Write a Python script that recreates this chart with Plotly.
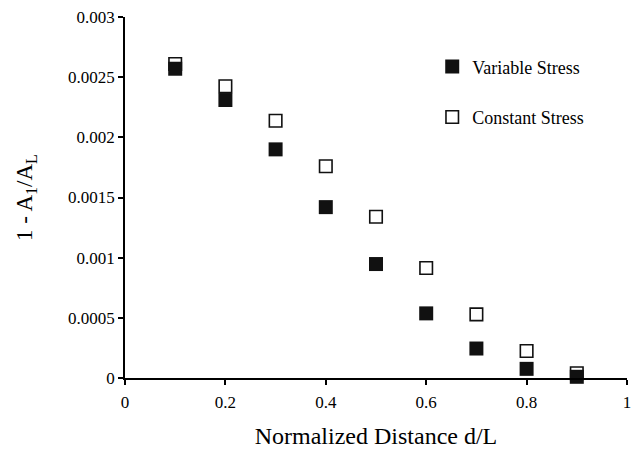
import plotly.graph_objects as go

distance = [0.1, 0.2, 0.3, 0.4, 0.5, 0.6, 0.7, 0.8, 0.9]
variable_stress = [0.00257, 0.00231, 0.00190, 0.00142, 0.000947, 0.000537, 0.000245, 0.000076, 0.00001]
constant_stress = [0.00261, 0.002425, 0.002138, 0.00176, 0.00134, 0.000914, 0.000529, 0.000225, 0.00004]

x_tickvals = [0, 0.2, 0.4, 0.6, 0.8, 1]
x_ticktext = ["0", "0.2", "0.4", "0.6", "0.8", "1"]
y_tickvals = [0, 0.0005, 0.001, 0.0015, 0.002, 0.0025, 0.003]
y_ticktext = ["0", "0.0005", "0.001", "0.0015", "0.002", "0.0025", "0.003"]

FONT = "Times New Roman, Liberation Serif, DejaVu Serif, serif"
INK = "#111111"

fig = go.Figure()
fig.add_trace(go.Scatter(
    x=distance, y=constant_stress, mode="markers", name="Constant Stress",
    legendgroup="b", legendrank=2, cliponaxis=False,
    marker=dict(symbol="square", size=12.5, color="white", line=dict(color=INK, width=1.6)),
))
fig.add_trace(go.Scatter(
    x=distance, y=variable_stress, mode="markers", name="Variable Stress",
    legendgroup="a", legendrank=1, cliponaxis=False,
    marker=dict(symbol="square", size=14, color=INK, line=dict(width=0)),
))

axis_common = dict(
    showline=True, linecolor="black", linewidth=1.5, showgrid=False, zeroline=False,
    ticks="outside", ticklen=5, tickwidth=1.5, tickcolor="black",
    tickfont=dict(family=FONT, size=17, color="black"),
    automargin=False,
)

fig.update_layout(
    width=638, height=449,
    margin=dict(l=125, r=11, t=17, b=71, autoexpand=False),
    paper_bgcolor="white", plot_bgcolor="white",
    font=dict(family=FONT, color="black"),
    showlegend=True,
    legend=dict(
        x=0.612, xanchor="left", y=0.913, yanchor="top",
        font=dict(family=FONT, size=18, color="black"),
        tracegroupgap=24, bgcolor="rgba(0,0,0,0)",
    ),
    xaxis=dict(
        range=[0, 1], tickvals=x_tickvals, ticktext=x_ticktext,
        ticklabelstandoff=3,
        title=dict(text="Normalized Distance d/L", font=dict(family=FONT, size=24), standoff=17),
        **axis_common,
    ),
    yaxis=dict(
        range=[0, 0.003], tickvals=y_tickvals, ticktext=y_ticktext,
        title=dict(text="1 - A<sub>1</sub>/A<sub>L</sub>", font=dict(family=FONT, size=23), standoff=29),
        **axis_common,
    ),
)

fig.write_html("out.html")
